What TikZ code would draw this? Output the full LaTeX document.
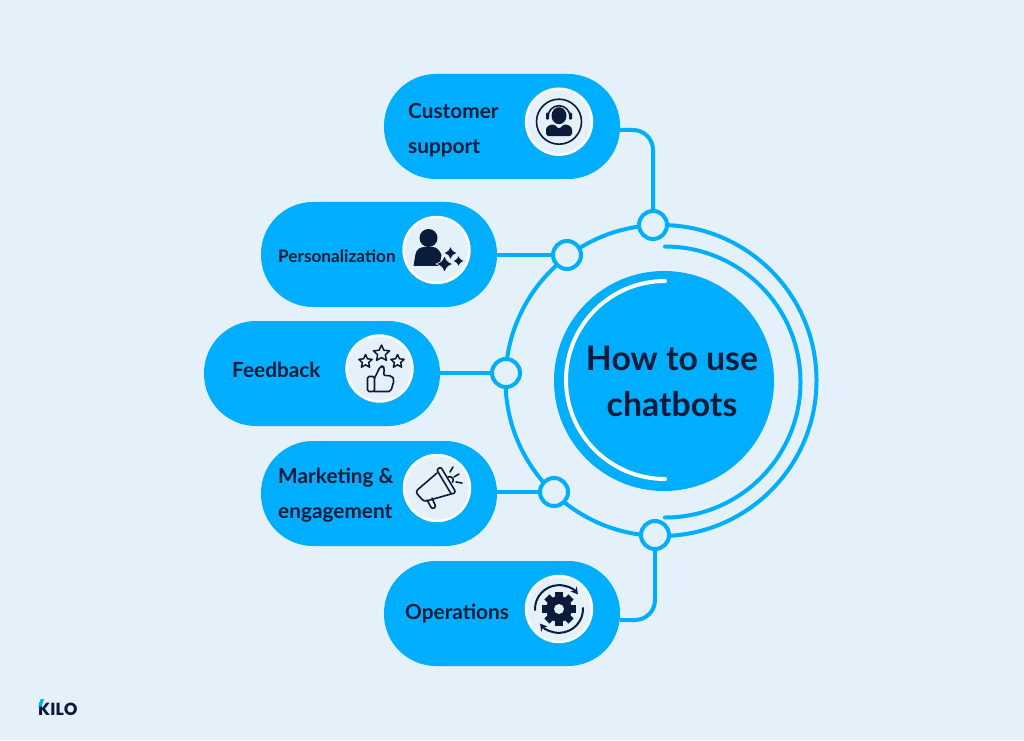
\documentclass[tikz,border=0pt]{standalone}
\usepackage{fontspec}
\setmainfont{Lato}
\newfontfamily\logofont{Poppins}
\usetikzlibrary{shapes.geometric,arrows.meta}
\definecolor{kiloblue}{HTML}{00AEFF}
\definecolor{palesky}{HTML}{E4F1FB}
\definecolor{inkdark}{HTML}{0B1B3A}
\tikzset{
    pill/.style={fill=kiloblue, rounded corners=52pt, minimum width=236pt, minimum height=105pt, inner sep=0pt},
    badge/.style={circle, fill=palesky, draw=white, line width=2.4pt, minimum size=66pt, inner sep=0pt},
    dot/.style={circle, fill=palesky, draw=kiloblue, line width=4pt, minimum size=28pt, inner sep=0pt},
    link/.style={draw=kiloblue, line width=4pt},
    label/.style={anchor=base west, text=inkdark, font=\bfseries\fontsize{20.8}{21}\selectfont, inner sep=0pt},
    title/.style={anchor=base, text=inkdark, font=\bfseries\fontsize{33.8}{34}\selectfont, inner sep=0pt},
    ink/.style={draw=inkdark, line width=1.6pt, line join=round, line cap=round},
    tinystar/.style={star, star points=5, star point ratio=2.1, draw=inkdark, line width=1.5pt, line join=round, inner sep=0pt}
}
\newcommand{\sparkle}[3]{%
    \fill[inkdark, draw=palesky, line width=0.6pt] (#1,#2+#3) .. controls (#1+0.3*#3,#2+0.3*#3) .. (#1+#3,#2) .. controls (#1+0.3*#3,#2-0.3*#3) .. (#1,#2-#3) .. controls (#1-0.3*#3,#2-0.3*#3) .. (#1-#3,#2) .. controls (#1-0.3*#3,#2+0.3*#3) .. cycle;}
\begin{document}
\begin{tikzpicture}[x=1pt,y=1pt]
    \fill[palesky] (0,0) rectangle (1024,740);
    \useasboundingbox (0,0) rectangle (1024,740);

    % rings
    \draw[link] (661,359.5) circle (155.5);
    \draw[link, line cap=round] (665,493.5) arc[start angle=90, end angle=-90, radius=135.5];
    \node[circle, fill=kiloblue, minimum size=220pt, inner sep=0pt] (hub) at (664,359) {};
    \draw[white, line width=4pt, line cap=round] (665,459) arc[start angle=90, end angle=270, radius=99];
    \node[title] (hubone) at (672,370) {How to use};
    \node[title] (hubtwo) at (672,324) {chatbots};

    % dots on the ring
    \node[dot] (dotcustomer) at (653,515) {};
    \node[dot] (dotperson) at (567,485) {};
    \node[dot] (dotfeedback) at (506,367) {};
    \node[dot] (dotmarket) at (554,248) {};
    \node[dot] (dotops) at (655,205) {};

    % pills
    \node[pill] (customer) at (502,613.5) {};
    \node[pill] (person) at (379,485.5) {};
    \node[pill] (feedback) at (322,366.5) {};
    \node[pill] (market) at (379,246.5) {};
    \node[pill] (ops) at (502,126.5) {};

    % connectors
    \draw[link, rounded corners=20pt] ([yshift=-3.5pt]customer.east) -| (dotcustomer);
    \draw[link] (person.east |- dotperson) -- (dotperson);
    \draw[link] (feedback.east |- dotfeedback) -- (dotfeedback);
    \draw[link] (market.east |- dotmarket) -- (dotmarket);
    \draw[link, rounded corners=20pt] ([yshift=-6.5pt]ops.east) -| (dotops);

    % labels
    \node[label] (customerone) at (408,621) {Customer};
    \node[label] (customertwo) at (408,586) {support};
    \node[label, font=\bfseries\fontsize{17.2}{18}\selectfont] (personone) at (278,477.5) {Personalization};
    \node[label] (feedbackone) at (232,362.5) {Feedback};
    \node[label] (marketone) at (278,256.5) {Marketing \&};
    \node[label] (markettwo) at (278,221.5) {engagement};
    \node[label] (opsone) at (405,121) {Operations};

    % badges
    \node[badge] (badgecustomer) at (559,618.3) {};
    \node[badge] (badgeperson) at (436.5,490) {};
    \node[badge] (badgefeedback) at (379.5,371.5) {};
    \node[badge] (badgemarket) at (437,252) {};
    \node[badge] (badgeops) at (559,131) {};

    % headset
    \begin{scope}[shift={(559,618.3)}]
        \draw[ink] (0,0) circle (22.5);
        \fill[inkdark] (0,6) ellipse (7.5 and 8.5);
        \draw[ink] (-11,5) arc[start angle=180, end angle=0, radius=11];
        \fill[inkdark, rounded corners=1pt] (-13,2) rectangle (-10,9);
        \fill[inkdark, rounded corners=1pt] (10,2) rectangle (13,9);
        \fill[inkdark, rounded corners=3pt] (-13,-14.5) -- (-13,-5) -- (-5,-2) -- (0,-8) -- (5,-2) -- (13,-5) -- (13,-14.5) -- cycle;
    \end{scope}

    % person with sparkles
    \begin{scope}[shift={(436.5,490)}]
        \fill[inkdark] (-8,12) circle (9);
        \fill[inkdark] (-23,-16) -- (-21,-4) .. controls (-20,1) and (-16,3) .. (-12,3) -- (-4,3) .. controls (0,3) and (3,0) .. (5,-5) -- (3,-16) -- cycle;
        \sparkle{8}{-14}{8.5}
        \sparkle{14}{-3}{7}
        \sparkle{22}{-11}{6}
    \end{scope}

    % stars and thumb
    \begin{scope}[shift={(379.5,371.5)}]
        \node[tinystar, minimum size=14pt] (starleft) at (-14,7) {};
        \node[tinystar, minimum size=17pt] (starmid) at (2,15) {};
        \node[tinystar, minimum size=14pt] (starright) at (18,7) {};
        \draw[ink, rounded corners=1.5pt] (-12,-23) rectangle (-5,-8);
        \draw[ink, rounded corners=2pt] (-5,-9.7) -- (0.7,2) -- (3.3,2.7) -- (5,0.3) -- (4,-7) -- (12.3,-7.3) -- (14.7,-11.3) -- (11.3,-23) -- (-5,-23);
    \end{scope}

    % megaphone
    \begin{scope}[shift={(437,252)}]
        \draw[ink, rounded corners=3pt] (0,15) -- (-21.7,-3.7) -- (-13,-13.7) -- (14,-6);
        \draw[ink, rounded corners=2pt] (-0.4,18.4) -- (3.8,21) -- (18.8,-4) -- (14.6,-6.6) -- cycle;
        \draw[ink, rounded corners=2pt] (-10,-12) -- (-5,-21) -- (-1,-19) -- (-5,-10);
        \draw[ink] (11,11) arc[start angle=120, end angle=-40, radius=3.5];
        \draw[ink] (13,16) -- (16,21);
        \draw[ink] (17,11) -- (22,14);
        \draw[ink] (19,6) -- (25,5);
    \end{scope}

    % gear and arrows
    \begin{scope}[shift={(559,131)}]
        \foreach \a in {0,45,...,315}
            \fill[inkdark, rotate=\a] (-3.7,11) rectangle (3.7,17);
        \fill[inkdark] (0,0) circle (13);
        \fill[palesky] (0,0) circle (5);
        \draw[ink, line width=2pt, -{Stealth[length=7pt,width=8pt]}] (-24,-1) arc[start angle=182, end angle=38, radius=24];
        \draw[ink, line width=2pt, -{Stealth[length=7pt,width=8pt]}] (24,1) arc[start angle=2, end angle=-142, radius=24];
    \end{scope}

    % logo
    \node[anchor=base west, text=inkdark, font=\logofont\bfseries\fontsize{17.5}{18}\selectfont, inner sep=0pt] (logo) at (38,25) {KILO};
    \fill[kiloblue] (38.3,33.5) -- (40.7,41) -- (44,41) -- (41.5,33.5) -- cycle;
\end{tikzpicture}
\end{document}
